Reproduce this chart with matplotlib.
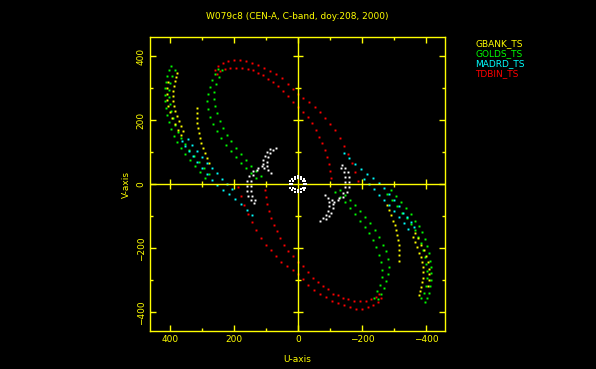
import numpy as np
import matplotlib
matplotlib.use('Agg')
import matplotlib.pyplot as plt

# uv tracks (one half, the conjugate half is -u,-v)
red_outer_u = [259, 250, 234, 219, 200, 181, 163, 144, 125, 106, 88, 69, 50, 31, 16, 0,
               -16, -34, -53, -69, -84, -100, -116, -131, -144, -156, -169, -178, -188]
red_outer_v = [356, 369, 378, 384, 388, 388, 384, 378, 372, 363, 353, 344, 331, 313, 297, 281,
               269, 256, 241, 225, 206, 188, 169, 144, 119, 94, 66, 38, 9]
red_inner_u = [253, 244, 228, 213, 194, 175, 156, 141, 125, 109, 94, 78, 63, 47, 31, 16, 0,
               -16, -31, -44, -56, -66, -75, -84, -91, -97, -100, -103]
red_inner_v = [344, 353, 359, 363, 363, 363, 359, 356, 347, 341, 328, 319, 306, 291, 275, 256, 241,
               225, 209, 191, 169, 147, 128, 106, 84, 63, 41, 19]

green_a_u = [250, 259, 269, 275, 281, 284, 281, 275, 266, 253, 241, 225, 209, 194, 178, 163, 147, 131]
green_a_v = [359, 344, 325, 303, 281, 259, 234, 209, 188, 166, 144, 122, 103, 84, 66, 50, 34, 19]
green_b_u = [238, 247, 256, 263, 263, 259, 253, 244, 234, 222, 209, 194, 178, 163, 147, 131, 116]
green_b_v = [356, 334, 313, 288, 266, 244, 222, 197, 175, 153, 134, 113, 94, 75, 56, 41, 25]
green_c_u = [397, 403, 409, 413, 416, 416, 416, 413, 409, 403, 397, 388, 378, 366, 353, 338, 322, 306, 291]
green_c_v = [369, 356, 338, 319, 300, 278, 259, 238, 216, 194, 172, 150, 131, 113, 94, 75, 56, 38, 19]
green_d_u = [384, 394, 400, 403, 403, 400, 397, 391, 384, 375, 366, 353, 341, 325, 309, 294, 278]
green_d_v = [356, 338, 316, 294, 272, 250, 228, 206, 184, 163, 144, 125, 106, 88, 69, 50, 31]

yellow_a_u = [378, 381, 384, 388, 391, 391, 391, 388, 384, 378, 372, 366, 359]
yellow_a_v = [347, 334, 322, 306, 291, 275, 259, 244, 228, 213, 197, 181, 166]
yellow_b_u = [406, 409, 409, 409, 406, 400, 394, 384, 375, 366]
yellow_b_v = [319, 300, 281, 263, 244, 225, 206, 188, 169, 153]
yellow_c_u = [316, 316, 316, 316, 313, 309, 306, 303, 297, 291, 284, 278]
yellow_c_v = [238, 222, 206, 191, 175, 159, 144, 128, 113, 97, 81, 66]

cyan_a_u = [363, 353, 341, 328, 316, 300, 284, 269, 253, 234, 216, 197, 178, 159, 144]
cyan_a_v = [134, 119, 103, 88, 69, 50, 31, 13, -3, -19, -31, -47, -63, -81, -97]
cyan_b_u = [344, 331, 316, 300, 284, 269, 253, 238, 222, 206]
cyan_b_v = [141, 122, 103, 84, 66, 50, 34, 16, 0, -16]

white_a_u = [69, 78, 88, 94, 97, 97, 94, 84]
white_a_v = [113, 106, 97, 84, 69, 56, 44, 34]
white_b_u = [88, 97, 103, 109, 109, 106]
white_b_v = [109, 100, 88, 75, 63, 50]
white_c_u = [125, 141, 153, 159, 159, 159, 156, 147, 138]
white_c_v = [50, 41, 25, 9, -6, -22, -38, -50, -59]
white_d_u = [113, 128, 141, 147, 147, 147, 144, 134]
white_d_v = [56, 44, 28, 9, -6, -22, -38, -50]
ring_u = [25, 23, 18, 10, 0, -10, -18, -23, 19, 16, 10, 0, -10, -16]
ring_v = [0, 10, 18, 23, 25, 23, 18, 10, 0, 10, 16, 19, 16, 10]

stations = ['GBANK_TS', 'GOLDS_TS', 'MADRD_TS', 'TDBIN_TS']
st_colors = ['#ffff00', '#00ff00', '#00ffff', '#ff0000']

tracks = [
    (red_outer_u, red_outer_v, '#ff0000'),
    (red_inner_u, red_inner_v, '#ff0000'),
    (green_a_u, green_a_v, '#00ff00'),
    (green_b_u, green_b_v, '#00ff00'),
    (green_c_u, green_c_v, '#00ff00'),
    (green_d_u, green_d_v, '#00ff00'),
    (yellow_a_u, yellow_a_v, '#ffff00'),
    (yellow_b_u, yellow_b_v, '#ffff00'),
    (yellow_c_u, yellow_c_v, '#ffff00'),
    (cyan_a_u, cyan_a_v, '#00ffff'),
    (cyan_b_u, cyan_b_v, '#00ffff'),
    (white_a_u, white_a_v, '#ffffff'),
    (white_b_u, white_b_v, '#ffffff'),
    (white_c_u, white_c_v, '#ffffff'),
    (white_d_u, white_d_v, '#ffffff'),
]

yel = '#ffff00'
fs = 6.5

fig = plt.figure(figsize=(5.96, 3.69), dpi=100, facecolor='black')
ax = fig.add_axes([0.2517, 0.103, 0.495, 0.7967], facecolor='black')

for u, v, c in tracks:
    u = np.array(u)
    v = np.array(v)
    ax.plot(u, v, 's', color=c, markersize=1.4, markeredgewidth=0)
    ax.plot(-u, -v, 's', color=c, markersize=1.4, markeredgewidth=0)

ru = np.array(ring_u)
rv = np.array(ring_v)
ax.plot(ru, rv, 's', color='white', markersize=1.9, markeredgewidth=0, zorder=4)
ax.plot(-ru, -rv, 's', color='white', markersize=1.9, markeredgewidth=0, zorder=4)

# axes through the origin with their own ticks
ax.axhline(0, color=yel, lw=1)
ax.axvline(0, color=yel, lw=1)
major = [-400, -200, 200, 400]
minor = [-300, -100, 100, 300]
ax.plot(major, [0] * 4, '|', color=yel, markersize=7, markeredgewidth=1)
ax.plot(minor, [0] * 4, '|', color=yel, markersize=4, markeredgewidth=1)
ax.plot([0] * 4, major, '_', color=yel, markersize=7, markeredgewidth=1)
ax.plot([0] * 4, minor, '_', color=yel, markersize=4, markeredgewidth=1)

ax.set_xlim(462, -460)
ax.set_ylim(-458, 460)
ax.set_xticks([400, 200, 0, -200, -400])
ax.set_yticks([-400, -200, 0, 200, 400])
ax.set_xticks([300, 100, -100, -300], minor=True)
ax.set_yticks([300, 100, -100, -300], minor=True)
ax.tick_params(which='both', direction='in', colors=yel, top=True, right=True,
               labelsize=fs, width=1)
ax.tick_params(which='major', length=4.5, pad=3)
ax.tick_params(which='minor', length=2.5)
for lab in ax.get_yticklabels():
    lab.set_rotation(90)
    lab.set_va('center')
for s in ax.spines.values():
    s.set_color(yel)
    s.set_linewidth(1)

ax.set_xlabel('U-axis', color=yel, fontsize=fs, labelpad=8)
ax.set_ylabel('V-axis', color=yel, fontsize=fs, labelpad=4)
fig.text(0.4995, 0.955, 'W079c8 (CEN-A, C-band, doy:208, 2000)', color=yel,
         fontsize=fs, ha='center', va='center')

for i, (name, c) in enumerate(zip(stations, st_colors)):
    fig.text(0.797, 0.883 - i * 0.0275, name, color=c, fontsize=fs, ha='left', va='center')

fig.savefig('out.png', dpi=100, facecolor='black')
